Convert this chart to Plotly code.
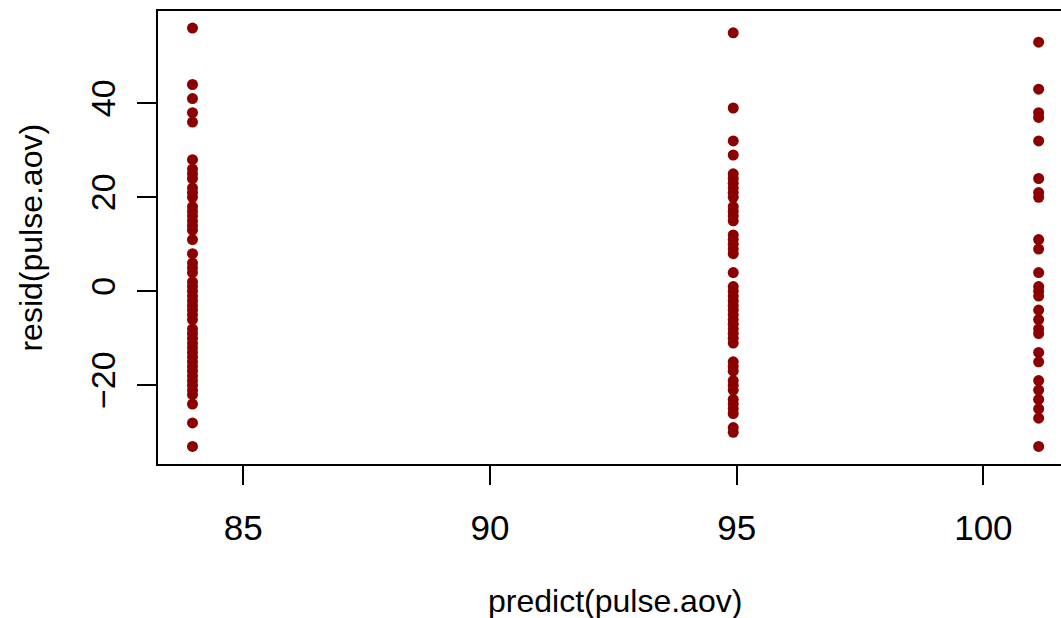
import plotly.graph_objects as go

# Fitted values (group means) for each group
fitted = [83.97, 94.93, 101.12]

# Residuals for each group
resid_g1 = [56, 44, 41, 38, 36, 28, 26, 25, 24, 22, 21, 20, 18, 17, 16, 15, 14, 13, 11,
            8, 6, 5, 4, 2, 1, 0, -1, -2, -3, -4, -5, -6, -8, -9, -10, -11, -12, -13,
            -14, -15, -16, -17, -18, -19, -20, -21, -22, -24, -28, -33]
resid_g2 = [55, 39, 32, 29, 25, 24, 23, 22, 21, 20, 18, 17, 16, 15, 12, 11, 10, 9, 8, 4,
            1, 0, -1, -2, -3, -4, -5, -6, -7, -8, -9, -10, -11, -15, -16, -17, -19, -20,
            -21, -23, -24, -25, -26, -29, -30]
resid_g3 = [53, 43, 38, 37, 32, 24, 21, 20, 11, 9, 4, 1, 0, -1, -4, -6, -8, -9, -13, -15,
            -19, -21, -23, -25, -27, -33]

x_ticks = [85, 90, 95, 100]
y_ticks = [-20, 0, 20, 40]

xs, ys = [], []
for f, r in zip(fitted, [resid_g1, resid_g2, resid_g3]):
    xs += [f] * len(r)
    ys += r

FONT = "Liberation Sans, Arial, sans-serif"
fig = go.Figure(go.Scatter(
    x=xs, y=ys, mode="markers",
    marker=dict(color="#8B0000", size=11, line=dict(width=0)),
    hoverinfo="skip"))

fig.update_layout(
    width=1061, height=618,
    margin=dict(l=158, r=0, t=11, b=154),
    paper_bgcolor="white", plot_bgcolor="white",
    showlegend=False,
    font=dict(family=FONT, size=32, color="black"),
    xaxis=dict(range=[83.271, 101.573], tickvals=x_ticks, ticktext=[str(v) for v in x_ticks],
               showgrid=False, zeroline=False, showline=True, mirror=True,
               linecolor="black", linewidth=2, ticks="outside", ticklen=19,
               tickwidth=2, tickcolor="black", ticklabelstandoff=13,
               tickfont=dict(size=35)),
    yaxis=dict(range=[-36.74, 59.64], tickvals=y_ticks,
               ticktext=["\u221220", "0", "20", "40"],
               showgrid=False, zeroline=False, showline=True, mirror=False,
               linecolor="black", linewidth=2, ticks="outside", ticklen=19,
               tickwidth=2, tickcolor="black", tickangle=-90, ticklabelstandoff=8,
               tickfont=dict(size=34)),
    annotations=[
        dict(text="predict(pulse.aov)", xref="paper", yref="paper",
             x=0.506, y=-0.3024, xanchor="center", yanchor="middle",
             showarrow=False, font=dict(size=32)),
        dict(text="resid(pulse.aov)", xref="paper", yref="paper",
             x=-0.1417, y=0.5, xanchor="center", yanchor="middle", textangle=-90,
             showarrow=False, font=dict(size=32)),
    ],
)

fig.write_html("out.html", config={"displayModeBar": False},
               post_script="document.body.style.margin='0';")
